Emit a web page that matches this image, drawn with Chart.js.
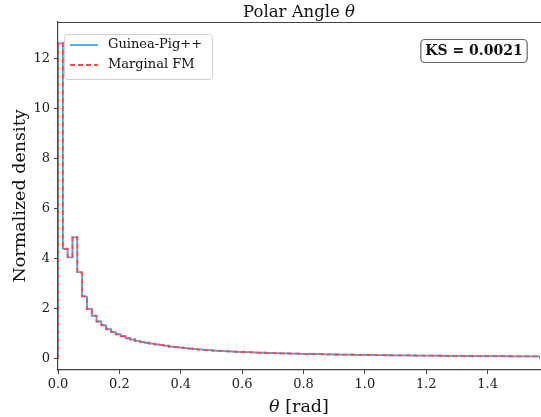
<!DOCTYPE html>
<html>
<head>
<meta charset="utf-8">
<script src="https://cdn.jsdelivr.net/npm/chart.js@4.4.1/dist/chart.umd.min.js"></script>
<style>
  html,body{margin:0;padding:0;background:#fff;}
  #wrap{width:541px;height:417px;}
</style>
</head>
<body>
<div id="wrap"><canvas id="c" width="541" height="417"></canvas></div>
<script>
/* ===== data ===== */
const THETA_MAX = Math.PI / 2;   // histogram range [0, pi/2], 100 equal bins

// Guinea-Pig++ normalized density per bin
const gpValues = [
  12.6, 4.40, 4.05, 4.85, 3.46, 2.48, 1.99, 1.71, 1.49, 1.33,
  1.18, 1.06, 0.98, 0.89, 0.82, 0.76, 0.71, 0.67, 0.63, 0.60,
  0.57, 0.54, 0.51, 0.48, 0.46, 0.44, 0.42, 0.40, 0.38, 0.37,
  0.35, 0.34, 0.325, 0.315, 0.305, 0.295, 0.285, 0.277, 0.268, 0.26,
  0.253, 0.246, 0.24, 0.233, 0.228, 0.222, 0.216, 0.211, 0.206, 0.201,
  0.197, 0.193, 0.189, 0.185, 0.181, 0.177, 0.174, 0.17, 0.167, 0.164,
  0.161, 0.158, 0.155, 0.152, 0.15, 0.147, 0.145, 0.142, 0.14, 0.138,
  0.136, 0.134, 0.132, 0.13, 0.128, 0.126, 0.124, 0.122, 0.121, 0.119,
  0.117, 0.116, 0.114, 0.113, 0.111, 0.11, 0.108, 0.107, 0.106, 0.104,
  0.103, 0.102, 0.101, 0.099, 0.098, 0.097, 0.096, 0.095, 0.094, 0.093
];

// Marginal FM normalized density per bin
const fmValues = [
  12.62, 4.38, 4.07, 4.87, 3.44, 2.50, 1.98, 1.72, 1.48, 1.34,
  1.17, 1.07, 0.97, 0.90, 0.81, 0.77, 0.70, 0.67, 0.64, 0.59,
  0.57, 0.54, 0.52, 0.48, 0.46, 0.44, 0.42, 0.40, 0.385, 0.365,
  0.355, 0.34, 0.325, 0.315, 0.305, 0.293, 0.286, 0.276, 0.269, 0.26,
  0.252, 0.247, 0.239, 0.234, 0.227, 0.222, 0.217, 0.21, 0.206, 0.202,
  0.196, 0.193, 0.19, 0.184, 0.181, 0.178, 0.173, 0.17, 0.168, 0.163,
  0.161, 0.159, 0.154, 0.152, 0.151, 0.146, 0.145, 0.143, 0.139, 0.138,
  0.137, 0.133, 0.132, 0.131, 0.127, 0.126, 0.125, 0.121, 0.121, 0.12,
  0.116, 0.116, 0.115, 0.112, 0.111, 0.111, 0.107, 0.107, 0.106, 0.103,
  0.104, 0.101, 0.101, 0.1, 0.097, 0.097, 0.097, 0.094, 0.094, 0.093
];

const seriesNames = ["Guinea-Pig++", "Marginal FM"];
const xTicks = [0.0, 0.2, 0.4, 0.6, 0.8, 1.0, 1.2, 1.4];
const yTicks = [0, 2, 4, 6, 8, 10, 12];
const ksLabel = "KS = 0.0021";

/* ===== style ===== */
const SERIF = "'DejaVu Serif', 'Liberation Serif', serif";
const BLUE = "#42a5f5";
const RED  = "#f44d4d";
const AXIS = "#444";

// outline of a step histogram: up from 0 at the left edge, down to 0 at the right edge
function stepPoints(vals){
  const w = THETA_MAX / vals.length;
  const pts = [{x:0, y:0}];
  vals.forEach((v,i)=>pts.push({x:i*w, y:v}));
  pts.push({x:THETA_MAX, y:vals[vals.length-1]});
  pts.push({x:THETA_MAX, y:0});
  return pts;
}

/* ===== extra drawing: titles, top spine, legend, KS box ===== */
const decor = {
  id:"decor",
  afterDraw(chart){
    const c = chart.ctx, a = chart.chartArea;
    c.save();

    // top spine
    c.strokeStyle = AXIS; c.lineWidth = 1.2;
    c.beginPath(); c.moveTo(a.left, a.top+0.5); c.lineTo(a.right+1, a.top+0.5); c.stroke();

    // title with italic theta
    c.fillStyle = "#111"; c.textBaseline = "alphabetic";
    const cx = (a.left + a.right) / 2;
    c.font = "16.5px " + SERIF;
    const t1 = "Polar Angle ";
    const w1 = c.measureText(t1).width;
    c.font = "italic 16.5px " + SERIF;
    const w2 = c.measureText("θ").width;
    let x0 = cx - (w1+w2)/2;
    c.font = "16.5px " + SERIF; c.textAlign = "left";
    c.fillText(t1, x0, 17);
    c.font = "italic 16.5px " + SERIF;
    c.fillText("θ", x0 + w1, 17);

    // x label
    c.font = "italic 17.5px " + SERIF;
    const wt = c.measureText("θ").width;
    c.font = "17.5px " + SERIF;
    const wr = c.measureText(" [rad]").width;
    x0 = cx - (wt+wr)/2;
    c.font = "italic 17.5px " + SERIF;
    c.fillText("θ", x0, 412);
    c.font = "17.5px " + SERIF;
    c.fillText(" [rad]", x0 + wt, 412);

    // y label
    c.save();
    c.translate(25, (a.top + a.bottom)/2);
    c.rotate(-Math.PI/2);
    c.textAlign = "center";
    c.font = "17.5px " + SERIF;
    c.fillText("Normalized density", 0, 0);
    c.restore();

    // legend
    c.beginPath();
    c.roundRect(64.5, 34.5, 148, 45, 3);
    c.fillStyle = "rgba(255,255,255,0.85)"; c.fill();
    c.strokeStyle = "#d0d0d0"; c.lineWidth = 1; c.stroke();
    const ds = chart.data.datasets;
    [45, 65].forEach((y,i)=>{
      c.strokeStyle = ds[i].borderColor; c.lineWidth = 1.8;
      c.setLineDash(ds[i].borderDash || []);
      c.beginPath(); c.moveTo(70, y); c.lineTo(98, y); c.stroke();
      c.setLineDash([]);
      c.fillStyle = "#111"; c.font = "13px " + SERIF;
      c.textAlign = "left"; c.textBaseline = "middle";
      c.fillText(ds[i].label, 108, y);
    });

    // KS box
    c.font = "bold 14px " + SERIF;
    const kw = c.measureText(ksLabel).width;
    const kx = 474;
    c.beginPath();
    c.roundRect(kx - kw/2 - 4.5, 39.5, kw + 9, 23, 4);
    c.fillStyle = "#fff"; c.fill();
    c.strokeStyle = "#666"; c.lineWidth = 1.2; c.stroke();
    c.fillStyle = "#111"; c.textAlign = "center"; c.textBaseline = "middle";
    c.fillText(ksLabel, kx, 51.5);

    c.restore();
  }
};

/* ===== chart ===== */
const tickFont = {family:SERIF, size:13};

new Chart(document.getElementById("c"), {
  type:"line",
  data:{
    datasets:[
      {label:seriesNames[0], data:stepPoints(gpValues), borderColor:BLUE,
       borderWidth:1.8, stepped:"before", pointRadius:0, fill:false, order:1},
      {label:seriesNames[1], data:stepPoints(fmValues), borderColor:RED,
       borderWidth:1.8, borderDash:[5,3], stepped:"before", pointRadius:0, fill:false, order:0}
    ]
  },
  options:{
    responsive:false,
    animation:false,
    devicePixelRatio:1,
    layout:{padding:{top:22, right:1, left:0, bottom:0}},
    plugins:{legend:{display:false}, title:{display:false}, tooltip:{enabled:false}},
    scales:{
      x:{
        type:"linear", min:0, max:THETA_MAX,
        afterBuildTicks:s=>{ s.ticks = xTicks.map(v=>({value:v})); },
        afterFit:s=>{ s.height = 47; },
        ticks:{callback:v=>v.toFixed(1), font:tickFont, color:"#222", padding:3, maxRotation:0, autoSkip:false},
        grid:{drawOnChartArea:false, drawTicks:true, tickLength:4, tickColor:AXIS, tickWidth:1},
        border:{color:AXIS, width:1.2}
      },
      y:{
        type:"linear", min:-0.45, max:13.45,
        afterBuildTicks:s=>{ s.ticks = yTicks.map(v=>({value:v})); },
        afterFit:s=>{ s.width = 58; },
        ticks:{callback:v=>String(v), font:tickFont, color:"#222", padding:4, autoSkip:false},
        grid:{drawOnChartArea:false, drawTicks:true, tickLength:4, tickColor:AXIS, tickWidth:1},
        border:{color:AXIS, width:1.2}
      }
    }
  },
  plugins:[decor]
});
</script>
</body>
</html>
